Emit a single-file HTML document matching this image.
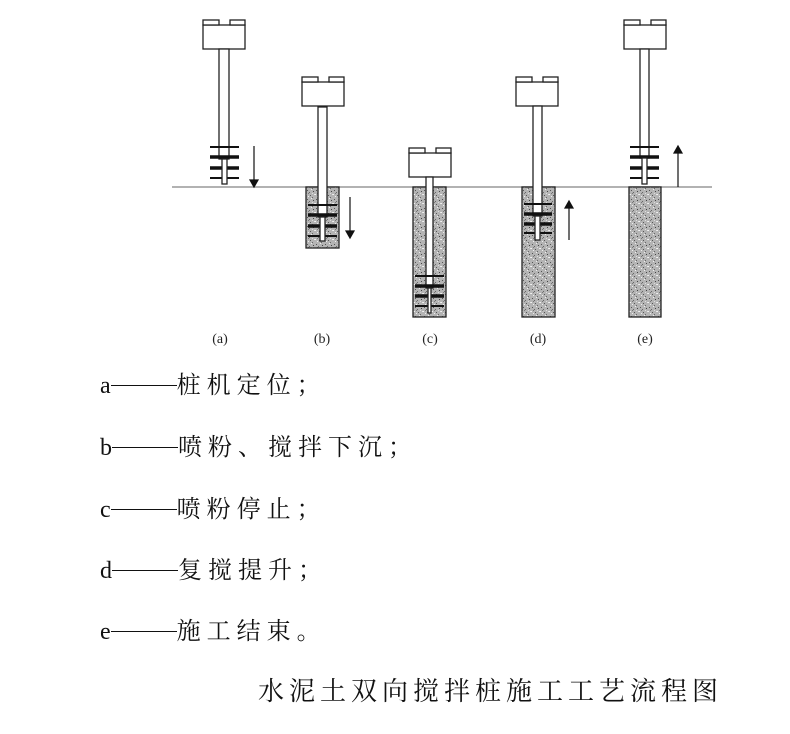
<!DOCTYPE html>
<html><head><meta charset="utf-8"><style>
body{margin:0;background:#fff;width:790px;height:734px;overflow:hidden;position:relative}
.t{position:absolute;left:100px;font-family:"Liberation Serif","Noto Serif CJK SC",serif;font-size:24px;color:#111;white-space:nowrap;line-height:30px}
.c{letter-spacing:6px;font-family:"Noto Serif CJK SC","Noto Sans CJK SC",serif}
.d{display:inline-block;width:66px;height:1px;background:#111;vertical-align:middle;margin-top:-4px}
.cap{position:absolute;left:258px;top:674px;font-family:"Noto Serif CJK SC",serif;font-size:26px;letter-spacing:5px;color:#111;line-height:32px}
</style></head><body>
<svg width="790" height="360" style="position:absolute;left:0;top:0" xmlns="http://www.w3.org/2000/svg">
<defs>
<pattern id="p" width="9" height="9" patternUnits="userSpaceOnUse">
<rect width="9" height="9" fill="#b4b4b4"/>
<rect x="1" y="1" width="1" height="1" fill="#555"/>
<rect x="5" y="0" width="1" height="1" fill="#eee"/>
<rect x="3" y="3" width="1" height="1" fill="#666"/>
<rect x="7" y="2" width="1" height="1" fill="#444"/>
<rect x="0" y="5" width="1" height="1" fill="#f2f2f2"/>
<rect x="4" y="6" width="1" height="1" fill="#555"/>
<rect x="8" y="5" width="1" height="1" fill="#e8e8e8"/>
<rect x="2" y="7" width="1" height="1" fill="#eee"/>
<rect x="6" y="8" width="1" height="1" fill="#666"/>
<rect x="6" y="4" width="1" height="1" fill="#ddd"/>
<rect x="2" y="4" width="1" height="1" fill="#777"/>
</pattern>
<g id="rig" stroke="#222" stroke-width="1.3" fill="#fff">
<rect x="0" y="5" width="42" height="24"/>
<rect x="0" y="0" width="16" height="5"/>
<rect x="27" y="0" width="15" height="5"/>
</g>
</defs>
<line x1="172" y1="187" x2="712" y2="187" stroke="#999" stroke-width="1.5"/>
<g stroke="#222" stroke-width="1.3" fill="url(#p)">
<rect x="306" y="187" width="33" height="61"/>
<rect x="413" y="187" width="33" height="130"/>
<rect x="522" y="187" width="33" height="130"/>
<rect x="629" y="187" width="32" height="130"/>
</g>
<g stroke="#222" stroke-width="1.3" fill="#fff">
<use href="#rig" x="203" y="20"/>
<rect x="219" y="49" width="10" height="110"/>
<use href="#rig" x="302" y="77"/>
<rect x="318" y="107" width="9" height="110"/>
<use href="#rig" x="409" y="148"/>
<rect x="426" y="177" width="7" height="111"/>
<use href="#rig" x="516" y="77"/>
<rect x="533" y="106" width="9" height="110"/>
<use href="#rig" x="624" y="20"/>
<rect x="640" y="49" width="9" height="109"/>
</g>
<g stroke="#111">
<line x1="210" y1="147" x2="239" y2="147" stroke-width="2"/><line x1="210" y1="157" x2="239" y2="157" stroke-width="3.5"/><line x1="210" y1="168" x2="239" y2="168" stroke-width="3.5"/><line x1="210" y1="178" x2="239" y2="178" stroke-width="2"/>
<line x1="308" y1="205" x2="337" y2="205" stroke-width="2"/><line x1="308" y1="215" x2="337" y2="215" stroke-width="3.5"/><line x1="308" y1="226" x2="337" y2="226" stroke-width="3.5"/><line x1="308" y1="236" x2="337" y2="236" stroke-width="2"/>
<line x1="415" y1="276" x2="444" y2="276" stroke-width="2"/><line x1="415" y1="286" x2="444" y2="286" stroke-width="3.5"/><line x1="415" y1="296" x2="444" y2="296" stroke-width="3.5"/><line x1="415" y1="306" x2="444" y2="306" stroke-width="2"/>
<line x1="524" y1="204" x2="552" y2="204" stroke-width="2"/><line x1="524" y1="214" x2="552" y2="214" stroke-width="3.5"/><line x1="524" y1="224" x2="552" y2="224" stroke-width="3.5"/><line x1="524" y1="233" x2="552" y2="233" stroke-width="2"/>
<line x1="630" y1="147" x2="659" y2="147" stroke-width="2"/><line x1="630" y1="157" x2="659" y2="157" stroke-width="3.5"/><line x1="630" y1="168" x2="659" y2="168" stroke-width="3.5"/><line x1="630" y1="178" x2="659" y2="178" stroke-width="2"/>
</g>
<g stroke="#222" stroke-width="1.3" fill="#fff">
<rect x="222" y="159" width="5" height="25"/><rect x="320" y="217" width="5" height="24"/><rect x="428" y="288" width="3" height="25"/><rect x="535" y="216" width="5" height="24"/><rect x="642" y="158" width="5" height="26"/>
</g>
<g stroke="#111" stroke-width="1.2" fill="#111">
<line x1="254" y1="146" x2="254" y2="180"/><path d="M250 180 L258 180 L254 187Z"/>
<line x1="350" y1="197" x2="350" y2="231"/><path d="M346 231 L354 231 L350 238Z"/>
<line x1="569" y1="240" x2="569" y2="208"/><path d="M565 208 L573 208 L569 201Z"/>
<line x1="678" y1="187" x2="678" y2="153"/><path d="M674 153 L682 153 L678 146Z"/>
</g>
<g font-family="Liberation Serif,serif" font-size="14" fill="#222" text-anchor="middle">
<text x="220" y="343">(a)</text><text x="322" y="343">(b)</text><text x="430" y="343">(c)</text><text x="538" y="343">(d)</text><text x="645" y="343">(e)</text>
</g>
</svg>
<div class="t" style="top:368px">a<span class="d"></span><span class="c">桩机定位；</span></div>
<div class="t" style="top:430px">b<span class="d"></span><span class="c">喷粉、搅拌下沉；</span></div>
<div class="t" style="top:492px">c<span class="d"></span><span class="c">喷粉停止；</span></div>
<div class="t" style="top:553px">d<span class="d"></span><span class="c">复搅提升；</span></div>
<div class="t" style="top:614px">e<span class="d"></span><span class="c">施工结束。</span></div>
<div class="cap">水泥土双向搅拌桩施工工艺流程图</div>
</body></html>
